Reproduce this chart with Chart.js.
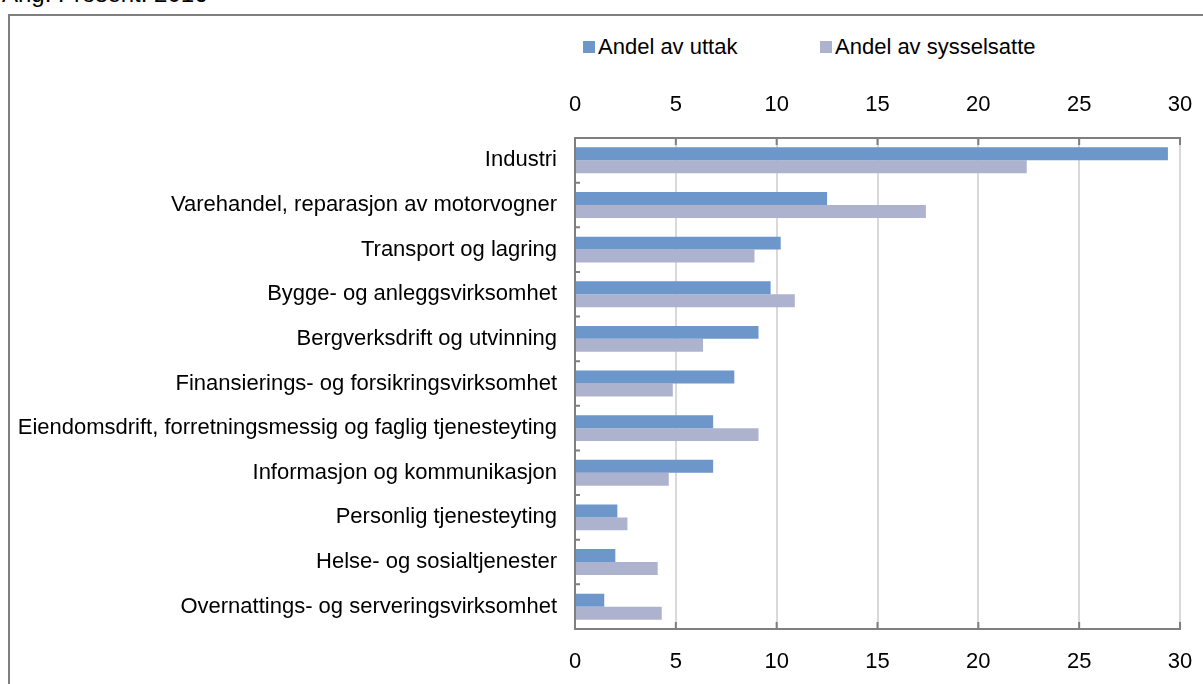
<!DOCTYPE html>
<html>
<head>
<meta charset="utf-8">
<script src="https://cdn.jsdelivr.net/npm/chart.js@4"></script>
<style>
  body { margin: 0; background: #fff; font-family: "Liberation Sans Narrow", "Arial Narrow", "Liberation Sans", sans-serif; }
  #page { position: relative; width: 1203px; height: 684px; overflow: hidden; }
  #title { position: absolute; left: 2px; top: -20px; font-size: 24px; color: #000; font-family: "Liberation Sans", Arial, sans-serif; }
  #frame { position: absolute; left: 8px; top: 14px; width: 1300px; height: 800px; border: 2px solid #7f7f7f; }
  #legend { position: absolute; left: 583px; top: 34px; font-size: 22px; color: #000; }
  #legend span.item { position: absolute; white-space: nowrap; top: 0; }
  #legend i { display: inline-block; width: 12px; height: 12px; margin-right: 3px; vertical-align: 1px; }
  canvas { position: absolute; left: 0; top: 0; }
</style>
</head>
<body>
<div id="page">
  <div id="title">Ang. Prosent. 2016</div>
  <div id="frame"></div>
  <div id="legend"></div>
  <canvas id="chart" width="1203" height="684"></canvas>
</div>
<script>
const categories = [
  'Industri',
  'Varehandel, reparasjon av motorvogner',
  'Transport og lagring',
  'Bygge- og anleggsvirksomhet',
  'Bergverksdrift og utvinning',
  'Finansierings- og forsikringsvirksomhet',
  'Eiendomsdrift, forretningsmessig og faglig tjenesteyting',
  'Informasjon og kommunikasjon',
  'Personlig tjenesteyting',
  'Helse- og sosialtjenester',
  'Overnattings- og serveringsvirksomhet'
];
const uttak = [29.4, 12.5, 10.2, 9.7, 9.1, 7.9, 6.85, 6.85, 2.1, 2.0, 1.45];
const sysselsatte = [22.4, 17.4, 8.9, 10.9, 6.35, 4.85, 9.1, 4.65, 2.6, 4.1, 4.3];
const seriesNames = ['Andel av uttak', 'Andel av sysselsatte'];
const seriesColors = ['#6d96cb', '#adb3cf'];
const xTicks = [0, 5, 10, 15, 20, 25, 30];

const FONT = '"Liberation Sans Narrow", "Arial Narrow", "Liberation Sans", sans-serif';

// legend as html
const legend = document.getElementById('legend');
const legendOffsets = [0, 237];
seriesNames.forEach((name, i) => {
  const s = document.createElement('span');
  s.className = 'item';
  s.style.left = legendOffsets[i] + 'px';
  s.innerHTML = '<i style="background:' + seriesColors[i] + '"></i>' + name;
  legend.appendChild(s);
});

// inward tick marks, like Excel
const innerTicks = {
  id: 'innerTicks',
  afterDraw(chart) {
    const ctx = chart.ctx;
    const area = chart.chartArea;
    const x = chart.scales.x;
    const y = chart.scales.y;
    ctx.save();
    ctx.strokeStyle = '#7f7f7f';
    ctx.lineWidth = 2;
    ctx.beginPath();
    xTicks.forEach(v => {
      const px = x.getPixelForValue(v);
      ctx.moveTo(px, area.top); ctx.lineTo(px, area.top + 7);
      ctx.moveTo(px, area.bottom); ctx.lineTo(px, area.bottom - 7);
    });
    for (let i = 0; i < categories.length - 1; i++) {
      const py = y.getPixelForValue(i + 0.5);
      ctx.moveTo(area.left, py); ctx.lineTo(area.left + 5, py);
    }
    ctx.stroke();
    ctx.restore();
  }
};

function fixHeight(h) {
  return scale => {
    scale.height = h;
    scale.paddingLeft = 0;
    scale.paddingRight = 0;
  };
}

new Chart(document.getElementById('chart'), {
  type: 'bar',
  data: {
    labels: categories,
    datasets: [
      { label: seriesNames[0], data: uttak, backgroundColor: seriesColors[0], xAxisID: 'x' },
      { label: seriesNames[1], data: sysselsatte, backgroundColor: seriesColors[1], xAxisID: 'x' }
    ]
  },
  options: {
    indexAxis: 'y',
    responsive: false,
    animation: false,
    layout: { autoPadding: false, padding: { top: 0, right: 23, bottom: 0, left: 10 } },
    barPercentage: 1,
    categoryPercentage: 0.58,
    plugins: { legend: { display: false }, tooltip: { enabled: false } },
    scales: {
      x: {
        position: 'bottom',
        min: 0, max: 30,
        ticks: { stepSize: 5, color: '#000', padding: 20, font: { family: FONT, size: 22 } },
        grid: { color: '#d9d9d9', lineWidth: 2, drawTicks: false },
        border: { color: '#7f7f7f', width: 2 },
        afterFit: fixHeight(55)
      },
      x2: {
        position: 'top',
        min: 0, max: 30,
        ticks: { stepSize: 5, color: '#000', padding: 20, font: { family: FONT, size: 22 } },
        grid: { display: false, drawTicks: false },
        border: { color: '#7f7f7f', width: 2 },
        afterFit: fixHeight(138)
      },
      y: {
        ticks: { color: '#000', padding: 18, font: { family: FONT, size: 22 } },
        grid: { display: false, drawTicks: false },
        border: { color: '#7f7f7f', width: 2 },
        afterFit(scale) { scale.width = 565; }
      }
    }
  },
  plugins: [innerTicks]
});
</script>
</body>
</html>
